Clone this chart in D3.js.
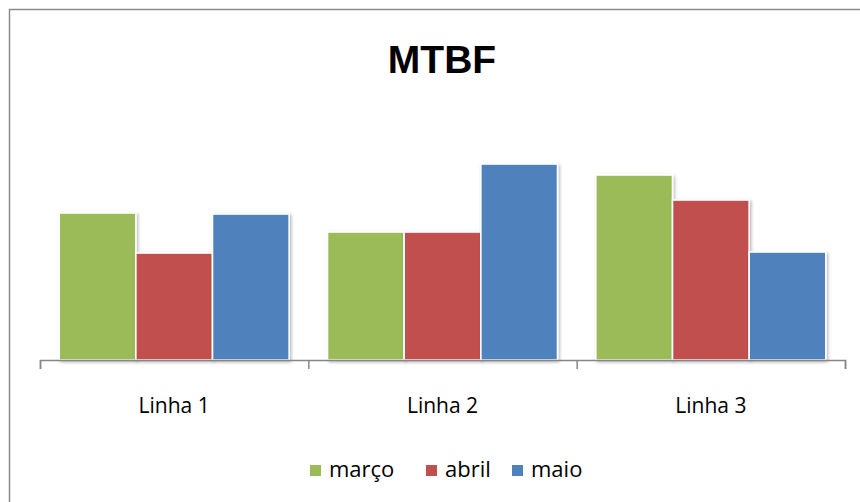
<!DOCTYPE html>
<html>
<head>
<meta charset="utf-8">
<script src="https://cdn.jsdelivr.net/npm/d3@7"></script>
<style>
  html, body { margin: 0; padding: 0; background: #fff; }
  svg { display: block; }
  text { font-family: "Open Sans", "Liberation Sans", Arial, sans-serif; fill: #000; }
  text.title { font-family: "Liberation Sans", Arial, sans-serif; }
</style>
</head>
<body>
<svg id="chart" width="860" height="502"></svg>
<script>
const title = "MTBF";
const categories = ["Linha 1", "Linha 2", "Linha 3"];
const seriesNames = ["março", "abril", "maio"];
const marco = [147, 128, 185];
const abril = [107, 128, 160];
const maio = [146, 196, 108];
const seriesValues = [marco, abril, maio];
const colors = ["#9BBB59", "#C0504D", "#4F81BD"];

const svg = d3.select("#chart");
const W = 860, H = 502;
const left = 40, right = 845, baseY = 360;

// outer chart border (extends past right/bottom edges)
svg.append("rect")
  .attr("x", 9.5).attr("y", 9.5)
  .attr("width", W).attr("height", H)
  .attr("fill", "#fff")
  .attr("stroke", "#8c8c8c").attr("stroke-width", 1.5);

const defs = svg.append("defs");
const f = defs.append("filter").attr("id", "shadow")
  .attr("x", "-10%").attr("y", "-10%").attr("width", "130%").attr("height", "130%");
f.append("feDropShadow").attr("dx", 1.5).attr("dy", 1.5)
  .attr("stdDeviation", 1.5).attr("flood-color", "#000").attr("flood-opacity", 0.28);

const x0 = d3.scaleBand().domain(categories).range([left, right]).padding(0);
const x1 = d3.scaleBand().domain(seriesNames).range([0, x0.bandwidth()])
  .paddingInner(0).paddingOuter(0.25);
const y = d3.scaleLinear().domain([0, 200]).range([baseY, 160]);

// bars
const data = [];
categories.forEach((c, i) => {
  seriesNames.forEach((s, j) => {
    data.push({ cat: c, ser: s, v: seriesValues[j][i], color: colors[j] });
  });
});
svg.append("g").selectAll("rect").data(data).join("rect")
  .attr("x", d => x0(d.cat) + x1(d.ser))
  .attr("y", d => y(d.v))
  .attr("width", x1.bandwidth())
  .attr("height", d => y(0) - y(d.v))
  .attr("fill", d => d.color)
  .attr("stroke", "#fff")
  .attr("stroke-width", 1.6)
  .attr("filter", "url(#shadow)");

// axis with boundary ticks
const xb = d3.scaleLinear().domain([0, categories.length]).range([left, right]);
const axis = svg.append("g").attr("transform", `translate(0,${baseY})`)
  .call(d3.axisBottom(xb).tickValues(d3.range(categories.length + 1))
    .tickFormat("").tickSize(9).tickSizeOuter(9));
axis.select(".domain").attr("stroke", "#868686").attr("stroke-width", 1.5);
axis.selectAll(".tick line").attr("stroke", "#868686").attr("stroke-width", 1.5);

// category labels
svg.append("g").selectAll("text").data(categories).join("text")
  .attr("x", d => x0(d) + x0.bandwidth() / 2)
  .attr("y", 413)
  .attr("text-anchor", "middle")
  .attr("font-size", 21)
  .text(d => d);

// title
svg.append("text").attr("class", "title")
  .attr("x", 442).attr("y", 73)
  .attr("text-anchor", "middle")
  .attr("font-size", 39).attr("font-weight", "bold")
  .text(title);

// legend
const legendX = [310, 426, 512];
const lg = svg.append("g").selectAll("g").data(seriesNames).join("g")
  .attr("transform", (d, i) => `translate(${legendX[i]},465)`);
lg.append("rect").attr("width", 11).attr("height", 11)
  .attr("fill", (d, i) => colors[i]);
lg.append("text").attr("x", 19).attr("y", 12)
  .attr("font-size", 22).text(d => d);
</script>
</body>
</html>
